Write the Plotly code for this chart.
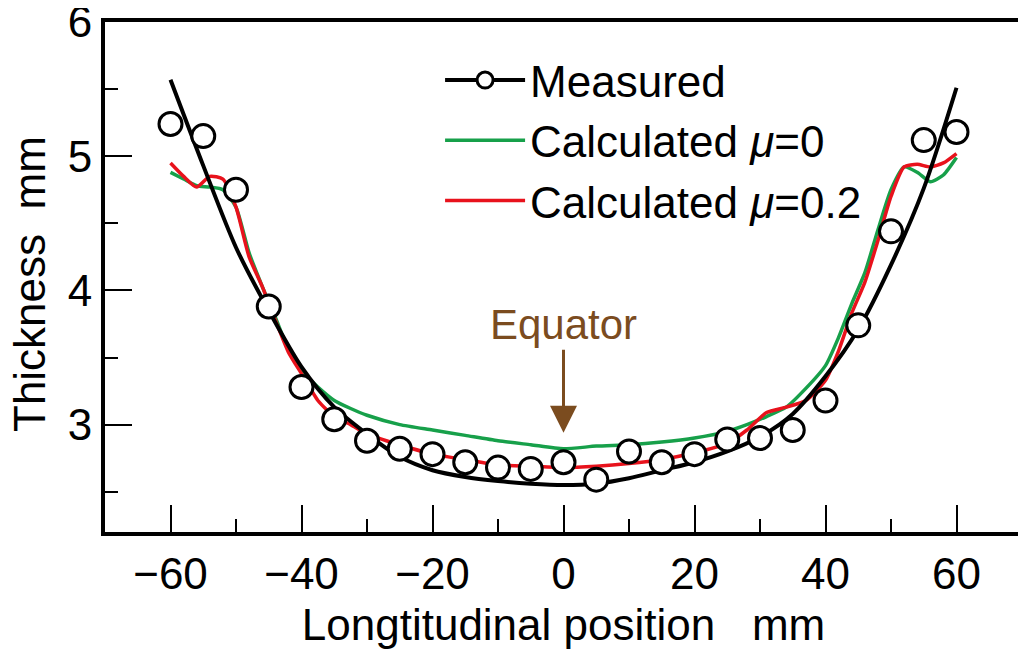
import plotly.graph_objects as go

# measured thickness (open circles)
meas_x = [-60, -55, -50, -45, -40, -35, -30, -25, -20, -15, -10, -5, 0,
          5, 10, 15, 20, 25, 30, 35, 40, 45, 50, 55, 60]
meas_y = [5.24, 5.15, 4.75, 3.88, 3.28, 3.04, 2.88, 2.82, 2.78, 2.72, 2.68, 2.67, 2.72,
          2.59, 2.80, 2.72, 2.78, 2.89, 2.90, 2.96, 3.18, 3.74, 4.44, 5.12, 5.18]

# fitted curve through measured points (black)
fit_x = [-60, -55, -50, -45, -40, -35, -30, -25, -20, -15, -10, -5, 0,
         5, 10, 15, 20, 25, 30, 35, 40, 45, 50, 55, 60]
fit_y = [5.57, 4.93, 4.32, 3.85, 3.43, 3.13, 2.93, 2.76, 2.66, 2.61, 2.58, 2.56, 2.55,
         2.56, 2.60, 2.66, 2.72, 2.80, 2.91, 3.08, 3.36, 3.71, 4.19, 4.76, 5.51]

# calculated thickness
calc_x = [-60, -58, -56, -54, -52, -50, -48, -46, -44, -42, -40, -37.5, -35, -32.5, -30,
          -25, -20, -15, -10, -5, 0, 5, 10, 15, 20, 25, 28, 31, 34, 37, 40,
          42, 44, 46, 48, 50, 52, 54, 56, 58, 60]
mu0_y = [4.88, 4.83, 4.78, 4.77, 4.75, 4.62, 4.28, 4.03, 3.80, 3.56, 3.40, 3.28, 3.18, 3.12, 3.07,
         3.00, 2.96, 2.92, 2.88, 2.85, 2.82, 2.84, 2.85, 2.87, 2.90, 2.95, 3.00, 3.06, 3.13, 3.27, 3.44,
         3.65, 3.90, 4.13, 4.45, 4.75, 4.92, 4.88, 4.81, 4.86, 4.99]
mu02_y = [4.95, 4.85, 4.77, 4.85, 4.83, 4.62, 4.25, 4.03, 3.78, 3.54, 3.38, 3.18, 3.06, 3.00, 2.93,
          2.85, 2.78, 2.74, 2.70, 2.69, 2.68, 2.69, 2.71, 2.74, 2.79, 2.86, 2.96, 3.09, 3.13, 3.18, 3.33,
          3.55, 3.83, 4.06, 4.37, 4.70, 4.92, 4.94, 4.92, 4.95, 5.02]

x_ticks = [-60, -40, -20, 0, 20, 40, 60]
y_ticks = [3, 4, 5, 6]

font_family = 'Liberation Sans, Arial, Helvetica, sans-serif'
green = '#17a04a'
red = '#e8121c'
brown = '#7b4c1f'
fs = 44

data = []
data.append(go.Scatter(x=calc_x, y=mu0_y, name='Calculated <i>μ</i>=0', mode='lines',
                       line=dict(color=green, width=3.5, shape='spline', smoothing=0.6)))
data.append(go.Scatter(x=calc_x, y=mu02_y, name='Calculated <i>μ</i>=0.2', mode='lines',
                       line=dict(color=red, width=3.5, shape='spline', smoothing=0.6)))
data.append(go.Scatter(x=fit_x, y=fit_y, mode='lines', showlegend=False,
                       line=dict(color='black', width=4, shape='spline', smoothing=0.8)))
data.append(go.Scatter(x=meas_x, y=meas_y, mode='markers', showlegend=False,
                       marker=dict(symbol='circle', size=23, color='white',
                                   line=dict(color='black', width=3))))
# legend-only entry for the measured series
data.append(go.Scatter(x=[None], y=[None], name='Measured', mode='lines+markers',
                       line=dict(color='black', width=4),
                       marker=dict(symbol='circle', size=16, color='white',
                                   line=dict(color='black', width=3)),
                       legendrank=1))

axis_common = dict(
    showline=True, linecolor='black', linewidth=4, mirror=True,
    showgrid=False, zeroline=False, automargin=False,
    ticks='inside', ticklen=27, tickwidth=2, tickcolor='black',
    ticklabeloverflow='allow',
    tickfont=dict(size=fs, color='black'),
)

# page body adds an 8px offset, so the figure is 8px smaller than the window
layout = go.Layout(
    width=1018, height=641,
    plot_bgcolor='white', paper_bgcolor='white',
    font=dict(family=font_family, color='black'),
    margin=dict(l=97, r=4, t=14, b=117, pad=0),
    xaxis=dict(range=[-70, 70], tickvals=x_ticks,
               minor=dict(tickvals=[-50, -30, -10, 10, 30, 50], ticks='inside',
                          ticklen=13, tickwidth=2, tickcolor='black'),
               title=dict(text='Longtitudinal position   mm', font=dict(size=fs), standoff=13),
               **axis_common),
    yaxis=dict(range=[2.2, 6], tickvals=y_ticks,
               minor=dict(tickvals=[2.5, 3.5, 4.5, 5.5], ticks='inside',
                          ticklen=13, tickwidth=2, tickcolor='black'),
               **axis_common),
    showlegend=True,
    legend=dict(x=0.3654, y=0.955, xanchor='left', yanchor='top', bgcolor='rgba(0,0,0,0)',
                font=dict(size=fs), itemwidth=80, tracegroupgap=0),
    annotations=[
        dict(x=0, y=2.94, xref='x', yref='y', text='Equator', showarrow=True,
             ax=0, ay=-108, arrowhead=2, arrowsize=1.8, arrowwidth=3,
             arrowcolor=brown, font=dict(size=42, color=brown)),
        # y axis title, placed by hand so it can sit closer to the page edge
        dict(x=0, y=0.5, xref='paper', yref='paper', text='Thickness  mm', textangle=-90,
             showarrow=False, xanchor='center', yanchor='middle', xshift=-76, yshift=-7,
             font=dict(size=fs, color='black')),
    ],
)

fig = go.Figure(data=data, layout=layout)
fig.write_html("out.html")
